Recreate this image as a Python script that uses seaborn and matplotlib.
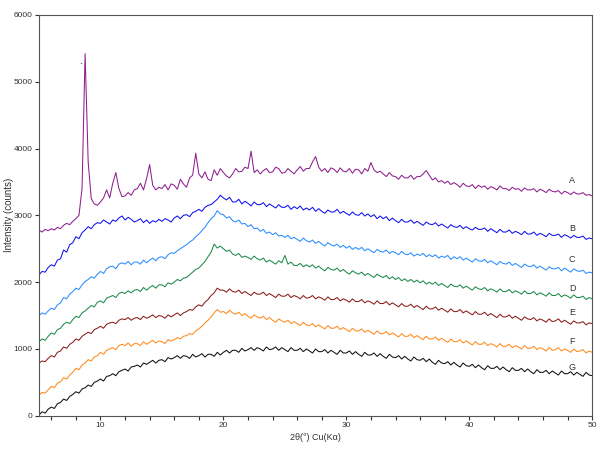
import numpy as np
import pandas as pd
import matplotlib
matplotlib.use("Agg")
import matplotlib.pyplot as plt
from matplotlib.ticker import MultipleLocator
import seaborn as sns

# 2theta grid, 0.25 deg steps from 5 to 50
two_theta = np.arange(5, 50.001, 0.25)

# intensities (counts), 8 values = 2 degrees per row
curve_a = [
    2780, 2750, 2790, 2770, 2800, 2780, 2820, 2800,
    2850, 2880, 2860, 2910, 2950, 3000, 3400, 5420,
    3800, 3250, 3170, 3150, 3200, 3260, 3380, 3260,
    3480, 3640, 3400, 3280, 3290, 3340, 3300, 3380,
    3400, 3480, 3380, 3550, 3760, 3450, 3380, 3420,
    3400, 3460, 3380, 3470, 3450, 3390, 3540, 3470,
    3420, 3560, 3600, 3930, 3620, 3560, 3650, 3540,
    3520, 3680, 3600, 3700, 3640, 3590, 3560, 3620,
    3700, 3650, 3660, 3720, 3700, 3960, 3640, 3680,
    3620, 3670, 3700, 3640, 3650, 3720, 3700, 3630,
    3640, 3700, 3660, 3620, 3680, 3730, 3660, 3700,
    3700, 3800, 3880, 3720, 3660, 3700, 3640, 3710,
    3690, 3640, 3710, 3660, 3650, 3700, 3630, 3690,
    3680, 3620, 3700, 3660, 3790, 3680, 3640, 3660,
    3620, 3580, 3640, 3590, 3580, 3540, 3600, 3560,
    3560, 3600, 3540, 3580, 3580, 3620, 3670, 3600,
    3530, 3560, 3500, 3520, 3480, 3510, 3460, 3490,
    3460, 3420, 3480, 3440, 3430, 3460, 3400, 3450,
    3420, 3440, 3390, 3430, 3410, 3380, 3440, 3400,
    3400, 3370, 3420, 3390, 3400, 3360, 3410, 3380,
    3380, 3400, 3350, 3390, 3370, 3340, 3390, 3360,
    3350, 3370, 3320, 3360, 3340, 3310, 3350, 3320,
    3320, 3340, 3300, 3310, 3290,
]
curve_b = [
    2110, 2160, 2150, 2220, 2260, 2240, 2330, 2350,
    2480, 2450, 2560, 2590, 2680, 2650, 2740, 2780,
    2830, 2800, 2860, 2890, 2880, 2930, 2900, 2870,
    2930, 2910, 2960, 2990, 2930, 2970, 2940, 2900,
    2920, 2950, 2890, 2930, 2880, 2920, 2900, 2940,
    2910, 2950, 2930, 2900, 2960, 2990, 2950, 3000,
    3010, 2980, 3040, 3060, 3090, 3060, 3120, 3150,
    3160, 3200, 3240, 3300, 3260, 3230, 3270, 3200,
    3200, 3240, 3170, 3210, 3180, 3140, 3200, 3160,
    3160, 3190, 3130, 3170, 3140, 3110, 3160, 3120,
    3120, 3150, 3090, 3130, 3100, 3140, 3080, 3110,
    3080, 3120, 3060, 3100, 3060, 3030, 3080, 3050,
    3050, 3090, 3030, 3060, 3030, 3000, 3050, 3010,
    3000, 3040, 2990, 3020, 2980, 3010, 2950, 2990,
    2950, 2980, 2920, 2960, 2920, 2890, 2940, 2900,
    2900, 2930, 2880, 2910, 2880, 2850, 2900, 2870,
    2860, 2890, 2840, 2870, 2840, 2810, 2860, 2830,
    2820, 2850, 2800, 2830, 2800, 2780, 2820, 2790,
    2790, 2810, 2760, 2800, 2770, 2740, 2790, 2750,
    2750, 2780, 2730, 2760, 2740, 2710, 2760, 2720,
    2720, 2750, 2700, 2730, 2710, 2680, 2730, 2700,
    2700, 2720, 2670, 2710, 2690, 2660, 2700, 2670,
    2670, 2690, 2640, 2660, 2650,
]
curve_c = [
    1500, 1540, 1520, 1570, 1610, 1590, 1660, 1690,
    1770, 1750, 1820, 1860, 1910, 1890, 1960, 2010,
    2040, 2080, 2060, 2120, 2160, 2130, 2200, 2230,
    2240, 2200, 2270, 2290, 2270, 2310, 2260, 2300,
    2300, 2270, 2330, 2290, 2330, 2360, 2320, 2370,
    2380, 2350, 2410, 2440, 2430, 2470, 2500, 2530,
    2560, 2600, 2630, 2680, 2720, 2770, 2820, 2890,
    2950, 2990, 3070, 3020, 3010, 2960, 2980, 2920,
    2900, 2930, 2870, 2880, 2830, 2860, 2800, 2810,
    2760, 2790, 2730, 2750, 2710, 2740, 2690, 2700,
    2670, 2700, 2650, 2670, 2640, 2610, 2660, 2620,
    2600, 2630, 2580, 2610, 2570, 2540, 2590, 2560,
    2540, 2570, 2520, 2550, 2510, 2540, 2490, 2520,
    2490, 2520, 2470, 2500, 2470, 2440, 2490, 2460,
    2450, 2480, 2430, 2460, 2440, 2410, 2460, 2420,
    2410, 2440, 2390, 2420, 2400, 2430, 2380, 2410,
    2380, 2410, 2360, 2390, 2370, 2400, 2340, 2380,
    2350, 2380, 2330, 2360, 2330, 2300, 2350, 2320,
    2310, 2340, 2290, 2320, 2290, 2260, 2310, 2280,
    2270, 2300, 2250, 2280, 2250, 2220, 2270, 2240,
    2230, 2260, 2210, 2240, 2210, 2180, 2230, 2200,
    2200, 2220, 2170, 2210, 2180, 2150, 2200, 2170,
    2160, 2180, 2130, 2150, 2140,
]
curve_d = [
    1110, 1150, 1130, 1190, 1240, 1220, 1290, 1310,
    1370, 1400, 1380, 1440, 1490, 1470, 1540, 1570,
    1610, 1650, 1630, 1700, 1720, 1690, 1760, 1780,
    1800, 1770, 1830, 1850, 1830, 1870, 1840, 1880,
    1890, 1860, 1920, 1880, 1920, 1950, 1910, 1960,
    1960, 1930, 1990, 1970, 2000, 2040, 2020, 2060,
    2070, 2110, 2150, 2190, 2210, 2260, 2310, 2380,
    2450, 2570, 2510, 2540, 2500, 2460, 2480, 2420,
    2400, 2430, 2370, 2390, 2370, 2340, 2390, 2350,
    2330, 2360, 2300, 2330, 2300, 2270, 2320, 2290,
    2400, 2270, 2300, 2250, 2250, 2280, 2230, 2260,
    2230, 2260, 2210, 2240, 2200, 2170, 2220, 2190,
    2180, 2210, 2160, 2190, 2150, 2120, 2170, 2140,
    2120, 2150, 2100, 2130, 2100, 2070, 2120, 2090,
    2070, 2100, 2050, 2080, 2040, 2070, 2020, 2050,
    2010, 2040, 2000, 2030, 1990, 2020, 1970, 2000,
    1970, 2000, 1950, 1980, 1950, 1920, 1970, 1940,
    1930, 1960, 1910, 1940, 1910, 1880, 1930, 1900,
    1890, 1920, 1870, 1900, 1880, 1850, 1900, 1860,
    1860, 1890, 1840, 1870, 1850, 1820, 1870, 1830,
    1830, 1860, 1810, 1840, 1820, 1790, 1840, 1800,
    1800, 1830, 1780, 1810, 1790, 1760, 1810, 1770,
    1770, 1790, 1740, 1770, 1750,
]
curve_e = [
    790, 820, 810, 860, 900, 880, 950, 970,
    1030, 1010, 1070, 1100, 1150, 1130, 1190, 1220,
    1250, 1230, 1290, 1310, 1340, 1310, 1370, 1390,
    1400, 1380, 1430, 1450, 1440, 1470, 1430, 1460,
    1470, 1440, 1490, 1460, 1480, 1510, 1470, 1500,
    1490, 1460, 1510, 1480, 1510, 1540, 1500, 1540,
    1560, 1590, 1580, 1630, 1660, 1640, 1700, 1740,
    1800, 1840, 1910, 1880, 1880, 1850, 1900, 1860,
    1850, 1880, 1830, 1860, 1830, 1800, 1850, 1820,
    1820, 1850, 1800, 1830, 1800, 1770, 1820, 1790,
    1790, 1820, 1770, 1800, 1780, 1750, 1800, 1760,
    1770, 1800, 1750, 1780, 1760, 1730, 1780, 1740,
    1740, 1770, 1720, 1750, 1730, 1700, 1750, 1710,
    1710, 1740, 1690, 1720, 1700, 1670, 1720, 1680,
    1680, 1710, 1660, 1690, 1660, 1630, 1680, 1640,
    1640, 1670, 1620, 1650, 1620, 1590, 1640, 1600,
    1600, 1630, 1580, 1610, 1580, 1550, 1600, 1560,
    1560, 1590, 1540, 1570, 1540, 1510, 1560, 1520,
    1520, 1550, 1500, 1530, 1500, 1470, 1520, 1480,
    1480, 1510, 1460, 1490, 1460, 1430, 1480, 1450,
    1440, 1470, 1420, 1450, 1430, 1400, 1450, 1410,
    1420, 1450, 1400, 1430, 1400, 1370, 1420, 1390,
    1390, 1410, 1360, 1390, 1380,
]
curve_f = [
    310, 350, 340, 390, 440, 420, 490, 510,
    570, 550, 610, 650, 710, 690, 760, 790,
    840, 820, 880, 900, 950, 920, 980, 1000,
    1020, 990, 1050, 1070, 1050, 1090, 1040, 1080,
    1080, 1050, 1110, 1070, 1100, 1130, 1090, 1120,
    1110, 1080, 1140, 1120, 1140, 1170, 1150, 1190,
    1200, 1230, 1220, 1270, 1300, 1340, 1390, 1430,
    1480, 1540, 1590, 1550, 1560, 1530, 1580, 1540,
    1520, 1550, 1500, 1530, 1490, 1460, 1510, 1480,
    1460, 1490, 1440, 1470, 1430, 1400, 1450, 1420,
    1400, 1430, 1380, 1410, 1380, 1350, 1400, 1360,
    1350, 1380, 1330, 1360, 1330, 1300, 1350, 1310,
    1310, 1340, 1290, 1320, 1290, 1260, 1310, 1270,
    1270, 1300, 1250, 1280, 1250, 1220, 1270, 1230,
    1230, 1260, 1210, 1240, 1210, 1180, 1230, 1190,
    1190, 1220, 1170, 1200, 1170, 1140, 1190, 1150,
    1150, 1180, 1130, 1160, 1130, 1100, 1150, 1110,
    1110, 1140, 1090, 1120, 1090, 1060, 1110, 1070,
    1070, 1100, 1050, 1080, 1060, 1030, 1080, 1040,
    1040, 1070, 1020, 1050, 1030, 1000, 1050, 1010,
    1010, 1040, 990, 1020, 1000, 970, 1020, 980,
    990, 1020, 970, 1000, 980, 950, 1000, 960,
    970, 990, 940, 970, 950,
]
curve_g = [
    10, 60, 40, 100, 130, 110, 180, 200,
    250, 230, 290, 320, 360, 340, 400, 420,
    460, 440, 500, 520, 550, 520, 590, 600,
    630, 600, 660, 680, 700, 670, 730, 740,
    760, 730, 790, 770, 800, 830, 790, 830,
    840, 810, 870, 850, 870, 900, 860, 900,
    890, 860, 920, 880, 900, 930, 880, 920,
    920, 890, 950, 910, 950, 980, 940, 980,
    980, 950, 1010, 970, 990, 1020, 980, 1020,
    1000, 970, 1030, 990, 1000, 1030, 980, 1020,
    990, 960, 1020, 980, 980, 1010, 960, 1000,
    970, 940, 1000, 960, 960, 990, 940, 980,
    950, 920, 980, 940, 940, 970, 920, 960,
    920, 890, 950, 910, 910, 940, 890, 930,
    890, 860, 920, 880, 870, 900, 850, 890,
    850, 820, 880, 840, 830, 860, 810, 850,
    800, 770, 830, 790, 780, 810, 760, 800,
    760, 730, 790, 750, 740, 770, 720, 760,
    720, 690, 750, 710, 710, 740, 690, 730,
    690, 660, 720, 680, 680, 710, 660, 700,
    660, 630, 690, 650, 650, 680, 630, 670,
    640, 610, 670, 630, 630, 660, 610, 650,
    620, 590, 650, 610, 600,
]

labels = ["A", "B", "C", "D", "E", "F", "G"]
curves = [curve_a, curve_b, curve_c, curve_d, curve_e, curve_f, curve_g]
label_y = [3520, 2810, 2340, 1910, 1540, 1110, 720]
colors = ["#8e1f8e", "#1010f0", "#2a8cff", "#1e8a4a", "#8b1c1c", "#ff8a1c", "#111111"]

# stray dot left of the main peak of A
dot_x = [8.4]
dot_y = [5280]

df = pd.concat(
    [pd.DataFrame({"two_theta": two_theta, "counts": c, "sample": s})
     for s, c in zip(labels, curves)],
    ignore_index=True,
)

sns.set_style("ticks")
plt.rcParams["font.family"] = ["Liberation Sans", "DejaVu Sans"]

fig = plt.figure(figsize=(6, 4.5), dpi=100)
ax = fig.add_axes([0.065, 0.076, 0.922, 0.891])

sns.lineplot(
    data=df, x="two_theta", y="counts", hue="sample",
    palette=dict(zip(labels, colors)), estimator=None, sort=False,
    linewidth=0.75, legend=False, ax=ax,
)
ax.plot(dot_x, dot_y, "o", color="#666666", markersize=1, markeredgewidth=0)

for s, yy in zip(labels, label_y):
    ax.text(48.1, yy, s, fontsize=6.5, color="#333333", ha="left", va="center")

ax.set_xlim(5, 50)
ax.set_ylim(0, 6000)
ax.xaxis.set_major_locator(MultipleLocator(10))
ax.xaxis.set_minor_locator(MultipleLocator(2))
ax.yaxis.set_major_locator(MultipleLocator(1000))
ax.tick_params(axis="both", which="both", direction="out", length=3,
               width=0.8, labelsize=6, colors="#333333", pad=1.5)
for sp in ax.spines.values():
    sp.set_linewidth(0.8)
    sp.set_color("#555555")
ax.set_xlabel("2θ(°) Cu(Kα)", fontsize=6.5, color="#333333", labelpad=3)
ax.set_ylabel("Intensity (counts)", fontsize=7, color="#333333")
ax.yaxis.set_label_coords(-0.045, 0.5)

fig.savefig("out.png", dpi=100)
